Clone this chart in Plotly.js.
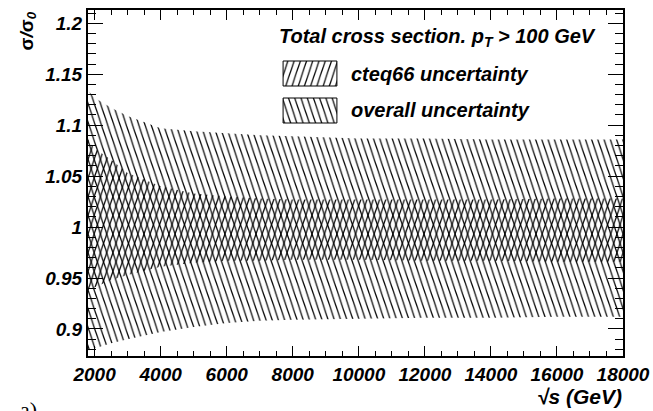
<!DOCTYPE html>
<html>
<head>
<meta charset="utf-8">
<script src="https://cdn.plot.ly/plotly-3.0.1.min.js"></script>
<style>
  html, body { margin: 0; padding: 0; background: #fff; }
  #chart { width: 653px; height: 411px; }
</style>
</head>
<body>
<div id="chart"></div>
<script>
// Centre-of-mass energy (GeV)
const sqrtS = [1800, 2000, 2500, 3000, 4000, 5000, 6000, 7000, 8000, 10000, 12000, 14000, 16000, 18000];

// Overall uncertainty band on sigma/sigma_0
const overallUpper = [1.134, 1.127, 1.117, 1.109, 1.097, 1.094, 1.092, 1.090, 1.089, 1.087, 1.087, 1.086, 1.086, 1.086];
const overallLower = [0.879, 0.881, 0.886, 0.890, 0.897, 0.902, 0.906, 0.908, 0.909, 0.910, 0.911, 0.911, 0.912, 0.912];

// cteq66 PDF uncertainty band on sigma/sigma_0
const cteqUpper = [1.086, 1.077, 1.066, 1.053, 1.040, 1.033, 1.030, 1.028, 1.027, 1.027, 1.027, 1.027, 1.028, 1.028];
const cteqLower = [0.938, 0.941, 0.948, 0.953, 0.961, 0.965, 0.967, 0.967, 0.968, 0.968, 0.967, 0.967, 0.966, 0.966];

// Axis ticks
const xTickVals = [2000, 4000, 6000, 8000, 10000, 12000, 14000, 16000, 18000];
const xTickText = ['2000', '4000', '6000', '8000', '10000', '12000', '14000', '16000', '18000'];
const yTickVals = [0.9, 0.95, 1.0, 1.05, 1.1, 1.15, 1.2];
const yTickText = ['0.9', '0.95', '1', '1.05', '1.1', '1.15', '1.2'];

// Legend labels
const bandNames = ['cteq66 uncertainty', 'overall uncertainty'];
const legendHeader = 'Total cross section. p<sub>T</sub> > 100 GeV';

const FONT = 'Liberation Sans, Arial, Helvetica, sans-serif';
const boldItalic = (size) => ({ family: FONT, size: size, color: '#000', weight: 'bold', style: 'italic' });

const hatchBack = { shape: '\\', fgcolor: '#000', size: 4.4, solidity: 0.2 };
const hatchFwd = { shape: '/', fgcolor: '#000', size: 4.4, solidity: 0.2 };

function band(lower, upper, pattern, name) {
  return [
    { x: sqrtS, y: lower, mode: 'lines', line: { width: 0, color: 'rgba(0,0,0,0)' },
      hoverinfo: 'skip', showlegend: false },
    { x: sqrtS, y: upper, mode: 'lines', line: { width: 0, color: 'rgba(0,0,0,0)' },
      fill: 'tonexty', fillcolor: 'rgba(0,0,0,0)',
      fillpattern: pattern, name: name, showlegend: false, hoverinfo: 'skip' }
  ];
}

// Legend swatches: a unit box drawn on its own small axes
function swatch(pattern, xa, ya) {
  return { x: [0, 1, 1, 0, 0], y: [0, 0, 1, 1, 0], xaxis: xa, yaxis: ya,
    mode: 'lines', line: { color: '#000', width: 1 }, fill: 'toself',
    fillcolor: 'rgba(0,0,0,0)', fillpattern: pattern, showlegend: false, hoverinfo: 'skip' };
}

const data = [
  ...band(overallLower, overallUpper, hatchBack, bandNames[1]),
  ...band(cteqLower, cteqUpper, hatchFwd, bandNames[0]),
  swatch(hatchFwd, 'x2', 'y2'),
  swatch(hatchBack, 'x3', 'y3')
];

const W = 653, H = 411;
const M = { l: 88, r: 30, t: 10, b: 55 };
const PW = W - M.l - M.r, PH = H - M.t - M.b;
const px = (x) => (x - M.l) / PW;
const py = (y) => 1 - (y - M.t) / PH;

const hiddenAxis = { visible: false, fixedrange: true };

const layout = {
  width: W, height: H,
  margin: M,
  paper_bgcolor: '#fff', plot_bgcolor: '#fff',
  showlegend: false,
  xaxis: {
    range: [1800, 18000],
    tickmode: 'array', tickvals: xTickVals, ticktext: xTickText,
    ticks: 'inside', ticklen: 10, tickwidth: 1, tickcolor: '#000',
    minor: { tickmode: 'linear', tick0: 0, dtick: 500, ticks: 'inside', ticklen: 5, tickwidth: 1, tickcolor: '#000' },
    showline: true, linecolor: '#000', linewidth: 2, mirror: 'ticks',
    showgrid: false, zeroline: false,
    tickfont: boldItalic(19)
  },
  yaxis: {
    range: [0.8735, 1.213],
    tickmode: 'array', tickvals: yTickVals, ticktext: yTickText,
    ticks: 'inside', ticklen: 15, tickwidth: 1, tickcolor: '#000',
    minor: { tickmode: 'linear', tick0: 0, dtick: 0.01, ticks: 'inside', ticklen: 8, tickwidth: 1, tickcolor: '#000' },
    showline: true, linecolor: '#000', linewidth: 2, mirror: 'ticks',
    showgrid: false, zeroline: false,
    tickfont: boldItalic(19)
  },
  xaxis2: Object.assign({ domain: [px(282), px(338)], range: [-0.02, 1.02], anchor: 'y2' }, hiddenAxis),
  yaxis2: Object.assign({ domain: [py(87), py(60)], range: [-0.04, 1.04], anchor: 'x2' }, hiddenAxis),
  xaxis3: Object.assign({ domain: [px(282), px(338)], range: [-0.02, 1.02], anchor: 'y3' }, hiddenAxis),
  yaxis3: Object.assign({ domain: [py(124), py(97)], range: [-0.04, 1.04], anchor: 'x3' }, hiddenAxis),
  annotations: [
    { xref: 'paper', yref: 'paper', x: px(598), y: py(38), xanchor: 'right', yanchor: 'middle',
      text: legendHeader, showarrow: false, font: boldItalic(20) },
    { xref: 'paper', yref: 'paper', x: px(349), y: py(74), xanchor: 'left', yanchor: 'middle',
      text: bandNames[0], showarrow: false, font: boldItalic(20) },
    { xref: 'paper', yref: 'paper', x: px(349), y: py(110), xanchor: 'left', yanchor: 'middle',
      text: bandNames[1], showarrow: false, font: boldItalic(20) },
    { xref: 'paper', yref: 'paper', x: px(27), y: py(10), xanchor: 'center', yanchor: 'top',
      textangle: -90, text: '<span style="font-style:normal">σ</span>/<span style="font-style:normal">σ</span><sub>0</sub>',
      showarrow: false, font: boldItalic(19) },
    { xref: 'paper', yref: 'paper', x: px(624), y: py(396), xanchor: 'right', yanchor: 'middle',
      text: '√s (GeV)', showarrow: false, font: boldItalic(21) },
    { xref: 'paper', yref: 'paper', x: px(18), y: py(409), xanchor: 'left', yanchor: 'middle',
      text: 'a)', showarrow: false, font: { family: 'Liberation Serif, serif', size: 22, color: '#000' } }
  ]
};

Plotly.newPlot('chart', data, layout, { staticPlot: true, displayModeBar: false }).then(function () {
  // steepen the hatch lines
  document.querySelectorAll('pattern').forEach(function (p) {
    p.setAttribute('patternTransform', 'scale(1,3)');
  });
});
</script>
</body>
</html>
